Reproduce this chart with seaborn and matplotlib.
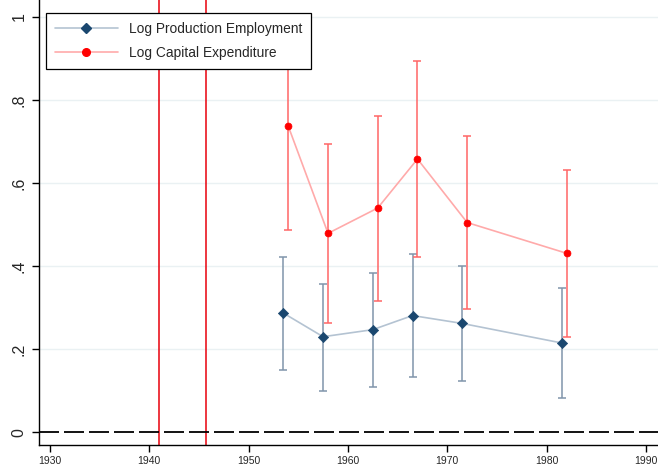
import numpy as np
import pandas as pd
import matplotlib
matplotlib.use('Agg')
import matplotlib.pyplot as plt
from matplotlib.lines import Line2D
import seaborn as sns

# census years and estimates
years = [1954, 1958, 1963, 1967, 1972, 1982]
emp_coef = [0.287, 0.230, 0.247, 0.281, 0.262, 0.215]
emp_lo = [0.151, 0.100, 0.109, 0.133, 0.124, 0.082]
emp_hi = [0.422, 0.358, 0.384, 0.429, 0.400, 0.347]
cap_coef = [0.737, 0.479, 0.540, 0.658, 0.505, 0.431]
cap_lo = [0.488, 0.262, 0.317, 0.423, 0.296, 0.230]
cap_hi = [0.986, 0.695, 0.762, 0.894, 0.714, 0.632]
war_lines = [1941.0, 1945.7]
xticks = [1930, 1940, 1950, 1960, 1970, 1980, 1990]
yticks = [0, 0.2, 0.4, 0.6, 0.8, 1.0]
ytick_labels = ['0', '.2', '.4', '.6', '.8', '1']

emp_col, emp_line, emp_bar = '#1a476f', '#b4c3d2', '#8095ab'
cap_col, cap_line, cap_bar = '#ff0000', '#ffaaaa', '#ff6666'

sns.set_style('white')
plt.rcParams['font.family'] = ['Liberation Sans', 'DejaVu Sans']
plt.rcParams['lines.scale_dashes'] = False

df = pd.DataFrame({
    'year': years * 2,
    'coef': emp_coef + cap_coef,
    'lo': emp_lo + cap_lo,
    'hi': emp_hi + cap_hi,
    'series': ['emp'] * len(years) + ['cap'] * len(years),
})
# employment series drawn half a year to the left
df['x'] = df['year'] - np.where(df['series'] == 'emp', 0.5, 0.0)

fig = plt.figure(figsize=(6.58, 4.70), dpi=100)
ax = fig.add_axes([0.059, 0.053, 0.941, 0.947])

for y in yticks[1:]:
    ax.axhline(y, color='#eaf1f3', lw=1.0, zorder=0)

for xv in war_lines:
    ax.axvline(xv, color='#e8000b', lw=1.1, zorder=1)
ax.axhline(0, color='black', lw=1.3, dashes=(14.4, 3.6), zorder=1)

styles = {
    'emp': dict(marker='D', col=emp_col, line=emp_line, bar=emp_bar, ms=5.2),
    'cap': dict(marker='o', col=cap_col, line=cap_line, bar=cap_bar, ms=5.0),
}
for name in ['emp', 'cap']:
    d = df[df['series'] == name]
    st = styles[name]
    ax.errorbar(d['x'], d['coef'], yerr=[d['coef'] - d['lo'], d['hi'] - d['coef']],
                fmt='none', ecolor=st['bar'], elinewidth=1.1, capsize=3, capthick=1.1, zorder=2)
    sns.lineplot(data=d, x='x', y='coef', ax=ax, color=st['line'], lw=1.2,
                 estimator=None, sort=False, zorder=3, legend=False)
    sns.scatterplot(data=d, x='x', y='coef', ax=ax, color=st['col'], marker=st['marker'],
                    s=st['ms'] ** 2, edgecolor=st['col'], linewidth=0.5, zorder=4, legend=False)

ax.set_xlim(1928.9, 1991.2)
ax.set_ylim(-0.031, 1.041)
ax.set_xticks(xticks)
ax.set_xticklabels([str(t) for t in xticks], fontsize=7.5)
ax.set_yticks(yticks)
ax.set_yticklabels(ytick_labels, fontsize=11.5, rotation=90, va='center')
ax.set_xlabel('')
ax.set_ylabel('')
ax.tick_params(axis='both', direction='out', length=5, width=1, color='black', bottom=True, left=True)
ax.tick_params(axis='x', pad=3)
ax.tick_params(axis='y', pad=4)
for side in ['top', 'right']:
    ax.spines[side].set_visible(False)
for side in ['left', 'bottom']:
    ax.spines[side].set_color('black')
    ax.spines[side].set_linewidth(1.0)

handles = [
    Line2D([], [], color=emp_line, lw=1.2, marker='D', markersize=5.5,
           markerfacecolor=emp_col, markeredgecolor=emp_col),
    Line2D([], [], color=cap_line, lw=1.2, marker='o', markersize=5.5,
           markerfacecolor=cap_col, markeredgecolor=cap_col),
]
leg = ax.legend(handles, ['Log Production Employment', 'Log Capital Expenditure'],
                loc='upper left', bbox_to_anchor=(0.011, 0.9715), fontsize=9.9,
                frameon=True, fancybox=False, edgecolor='black', framealpha=1,
                handlelength=4.6, handletextpad=0.8, borderpad=0.65, labelspacing=0.75,
                borderaxespad=0)
leg.get_frame().set_linewidth(0.9)
leg.set_zorder(10)

fig.savefig('out.png', dpi=100)
